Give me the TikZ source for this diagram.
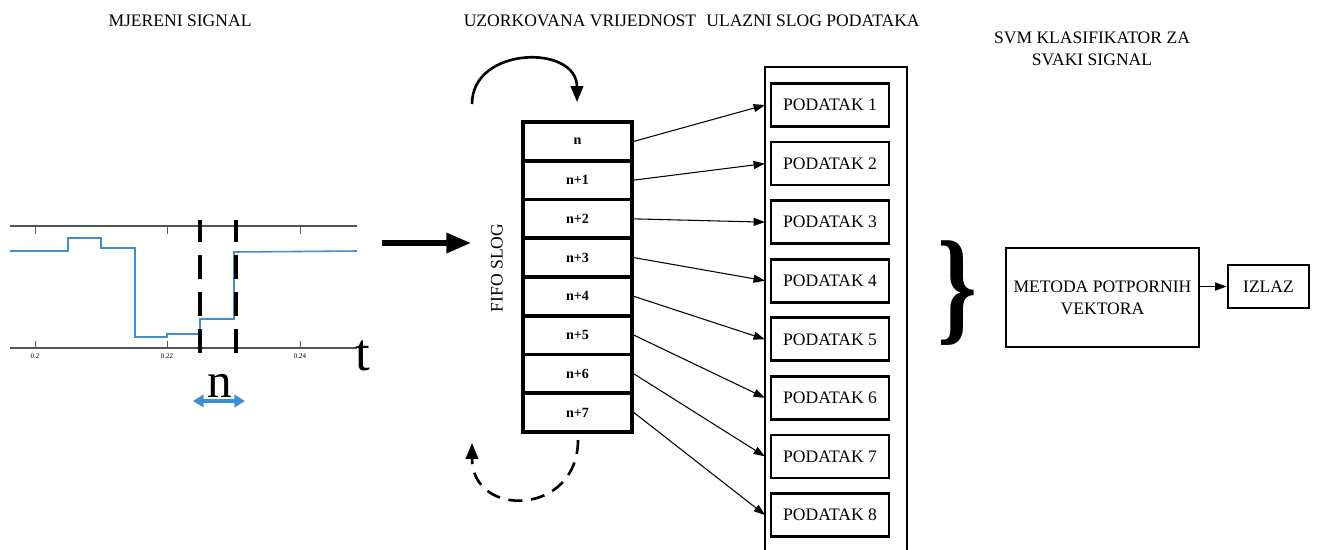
\documentclass[tikz,border=0pt]{standalone}
\usepackage{fontspec}
\setmainfont{Liberation Serif}
\usetikzlibrary{arrows.meta}

\definecolor{signal}{RGB}{62,142,210}
\definecolor{osi}{RGB}{85,85,85}

\tikzset{
  naslov/.style={font=\fontsize{10}{12.5}\selectfont, align=center},
  celija/.style={draw, line width=2.2pt, minimum width=2.18cm, minimum height=0.775cm, inner sep=0pt, font=\bfseries\fontsize{8}{9}\selectfont},
  podatak/.style={draw, line width=1.6pt, minimum width=2.36cm, minimum height=0.86cm, inner sep=0pt, font=\fontsize{10}{12}\selectfont},
  blok/.style={draw, line width=1.5pt, inner sep=0pt, naslov},
  tanka/.style={-{Triangle[length=6.5pt,width=4.5pt]}, line width=0.6pt},
  crtkana/.style={line width=2pt, dash pattern=on 13.5pt off 7.5pt, dash phase=1pt},
}

\begin{document}
\begin{tikzpicture}[x=0.02cm, y=-0.02cm]
        \useasboundingbox (0,0) rectangle (1317,549);

        % Naslovi
        \node[naslov] (mjereni) at (180,21) {MJERENI SIGNAL};
        \node[naslov] (uzorak) at (580,21) {UZORKOVANA VRIJEDNOST};
        \node[naslov] (ulazni) at (813,21) {ULAZNI SLOG PODATAKA};
        \node[naslov] (svmnaslov) at (1092,49) {SVM KLASIFIKATOR ZA\\SVAKI SIGNAL};

        % Signal
        \draw[line width=0.8pt, osi] (10,226) -- (357,226);
        \draw[line width=0.8pt, osi] (10,348) -- (357,348);
        \foreach \x/\l in {35/0.2, 167/0.22, 300/0.24} {
            \draw[osi] (\x,226) -- (\x,234);
            \draw[osi] (\x,348) -- (\x,341);
            \node[font=\fontsize{4}{4}\selectfont] (oznaka\x) at (\x,356) {\l};
        }
        \draw[signal, line width=0.9pt] (10,251) -| (68,238) -| (101,248) -| (135,337) -| (167,334) -| (200,319) -| (234,252) -- (357,251);
        \draw[crtkana] (200,220) -- (200,358);
        \draw[crtkana] (236,220) -- (236,358);
        \node[font=\fontsize{30}{30}\selectfont] (t) at (363,356) {t};
        \node[font=\fontsize{28}{28}\selectfont] (n) at (220,386) {n};
        \coordinate (nL) at (193,401);
        \coordinate (nR) at (245,401);
        \draw[{Triangle[length=6pt,width=7pt]}-{Triangle[length=6pt,width=7pt]}, signal, line width=1.8pt] (nL) -- (nR);

        % Ulaz u FIFO
        \coordinate (s1) at (382,243);
        \coordinate (s2) at (471,243);
        \draw[-{Triangle[length=14pt,width=11pt]}, line width=3pt] (s1) -- (s2);
        \node[naslov, rotate=90] (fifo) at (497,268) {FIFO SLOG};

        % FIFO slog
        \foreach \i/\t in {1/n, 2/n+1, 3/n+2, 4/n+3, 5/n+4, 6/n+5, 7/n+6, 8/n+7}
            \node[celija] (c\i) at (577.5,{102.6+38.75*\i}) {\t};

        % Kruzne strelice
        \coordinate (gL) at (472,104);
        \coordinate (gD) at (577,102);
        \draw[line width=1.5pt, -{Triangle[length=9pt,width=7pt]}] (gL) .. controls +(0,-58) and +(0,-58) .. (gD);
        \coordinate (dD) at (578,440);
        \coordinate (dL) at (472,443);
        \draw[line width=1.5pt, dash pattern=on 8pt off 5pt, -{Triangle[length=9pt,width=7pt]}] (dD) .. controls +(0,76) and +(0,76) .. (dL);

        % Ulazni slog podataka
        \draw[line width=1.1pt] (765,67) rectangle (907,560);
        \coordinate (ul) at (765,67);
        \foreach \i in {1,...,8}
            \node[podatak] (d\i) at (830,{105+58.57*(\i-1)}) {PODATAK \i};
        \foreach \i in {1,...,8}
            \draw[tanka] (c\i.east) -- (ul |- d\i.west);

        % SVM
        \node[font=\bfseries\fontsize{72}{72}\selectfont, xscale=0.8] (zagrada) at (957,293) {\}};
        \node[blok, minimum width=3.86cm, minimum height=1.98cm] (svm) at (1102.5,297.5) {METODA POTPORNIH\\VEKTORA};
        \node[blok, line width=1.6pt, minimum width=1.62cm, minimum height=0.86cm] (izlaz) at (1268.5,286.5) {IZLAZ};
        \draw[tanka, line width=0.9pt] (svm.east |- izlaz.west) -- (izlaz.west);
\end{tikzpicture}
\end{document}
